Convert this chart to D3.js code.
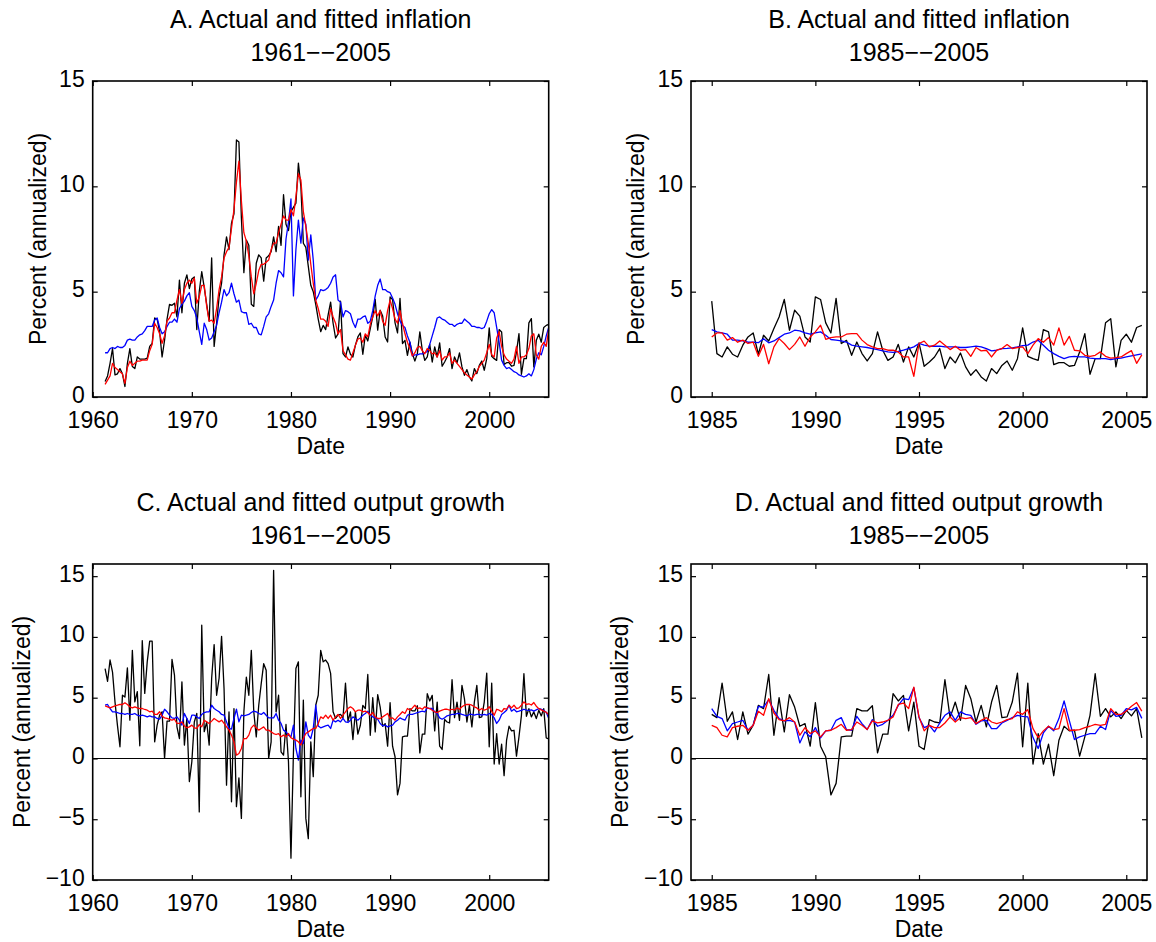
<!DOCTYPE html>
<html>
<head>
<meta charset="utf-8">
<script src="https://cdn.jsdelivr.net/npm/d3@7"></script>
<style>
  body { margin: 0; background: #fff; }
  svg text { font-family: "Liberation Sans", Arial, Helvetica, sans-serif; fill: #000; }
</style>
</head>
<body>
<svg id="chart" width="1156" height="942"></svg>
<script>
// quarterly data

// inflation, actual, 1961.25 .. 2006.0
const inflationActual = [
  0.74, 1.0, 1.6, 2.3, 1.05, 1.1, 1.35, 1.1, 0.5, 1.6,
  2.3, 1.45, 1.35, 1.9, 1.8, 1.8, 1.8, 1.85, 2.4, 2.55,
  3.75, 3.7, 3.1, 1.9, 2.7, 3.7, 4.4, 4.35, 4.45, 3.8,
  5.55, 4.0, 5.4, 5.8, 5.15, 5.6, 5.7, 3.2, 5.0, 5.95,
  5.2, 4.4, 3.6, 6.6, 2.4, 3.5, 4.75, 5.4, 6.75, 7.6,
  7.0, 8.25, 8.7, 12.2, 12.1, 8.5, 5.9, 7.45, 7.2, 4.4,
  4.3, 6.35, 6.75, 6.6, 5.5, 6.6, 6.7, 6.9, 7.6, 6.9,
  8.1, 7.2, 9.6, 8.2, 7.9, 8.8, 9.0, 9.2, 11.1, 10.0,
  7.3, 7.1, 6.2, 5.3, 5.0, 4.4, 3.7, 3.1, 3.4, 3.2,
  3.9, 4.5, 3.5, 2.8, 3.0,
  4.55, 2.06, 1.9, 2.38, 2.03, 1.9, 2.46, 2.85,
  3.04, 2.03, 2.93, 2.66, 3.25, 3.8, 4.63, 3.17,
  4.12, 3.84, 2.85, 2.61, 4.75, 4.63, 3.52, 3.04,
  4.68, 2.54, 2.69, 1.98, 2.61, 2.06, 1.71, 2.06,
  3.09, 2.22, 1.74, 1.9, 2.5, 1.66, 2.38, 1.9,
  2.57, 1.46, 1.66, 1.9, 2.3, 1.35, 1.9, 1.62,
  2.09, 1.43, 1.03, 1.3, 0.95, 0.76, 1.35, 1.11,
  1.5, 1.71, 1.27, 1.82, 3.28, 1.93, 1.82, 1.74,
  3.2, 3.09, 1.54, 1.63, 1.63, 1.46, 1.5, 2.14,
  3.01, 1.08, 1.82, 1.82, 3.52, 3.72, 1.43, 2.69,
  2.98, 2.6, 3.3, 3.4,
  3.45
];

// inflation, fitted over 1961-2005 (red)
const inflationRed6105 = [
  0.6, 0.8, 1.0, 1.6, 1.4, 1.3, 1.2, 1.1, 0.65, 1.4,
  1.7, 1.5, 1.6, 1.7, 1.7, 1.75, 1.75, 1.75, 2.2, 2.5,
  3.5, 3.3, 3.0, 2.55, 2.9, 3.6, 3.75, 4.0, 4.0, 4.6,
  5.1, 4.45, 5.1, 5.4, 5.55, 5.4, 5.65, 4.45, 4.75, 5.3,
  5.3, 4.3, 3.6, 3.65, 3.5, 4.2, 5.1, 5.7, 6.6, 6.9,
  7.1, 8.0, 8.9, 10.2, 11.2, 9.3, 7.8, 7.4, 6.7, 5.7,
  4.9, 5.4, 6.0, 6.3, 6.3, 6.4, 6.5, 7.0, 7.3, 7.3,
  7.8, 8.2, 8.6, 8.4, 8.4, 8.9, 8.6, 9.5, 10.6, 10.3,
  8.8, 8.1, 7.3, 6.3, 5.4, 4.6, 4.2, 3.7, 3.7, 3.6,
  3.35, 4.2, 3.8, 3.5, 3.0, 3.2, 2.2, 2.0, 1.8, 1.75,
  2.1, 2.45, 2.75, 2.8, 2.6, 3.0, 2.85, 3.45, 3.8, 4.1,
  3.85, 4.1, 3.6, 3.4, 4.1, 4.6, 4.2, 3.7, 3.5, 4.1,
  3.5, 3.0, 2.6, 2.3, 1.95, 2.1, 2.35, 2.4, 2.2, 2.05,
  2.3, 2.2, 2.05, 2.1, 1.9, 2.2, 1.75, 1.9, 1.9, 2.1,
  1.6, 1.75, 1.6, 1.45, 1.3, 1.15, 1.05, 0.95, 0.85, 1.05,
  1.2, 1.45, 1.6, 1.75, 2.1, 2.5, 2.0, 1.9, 2.8, 3.1,
  2.4, 2.0, 1.8, 1.7, 1.6, 1.8, 2.4, 1.6, 1.9, 1.9,
  2.0, 2.3, 2.9, 3.0, 2.0, 1.8, 2.4, 2.6, 2.4, 3.2
];

// inflation, fitted over 1961-2005 (blue)
const inflationBlue6105 = [
  2.1, 2.1, 2.3, 2.35, 2.3, 2.4, 2.35, 2.35, 2.45, 2.7,
  2.75, 2.7, 2.7, 2.85, 2.95, 3.0, 3.15, 3.35, 3.35, 3.35,
  3.65, 3.75, 3.3, 3.0, 3.1, 3.35, 3.55, 3.55, 3.7, 3.55,
  4.2, 4.4, 4.55, 4.8, 4.95, 4.3, 4.1, 3.75, 3.1, 2.5,
  3.5, 3.2, 2.7, 2.8, 3.1, 3.4, 4.0, 4.5, 5.1, 4.8,
  4.95, 5.4, 4.9, 4.5, 4.6, 4.05, 4.0, 4.0, 3.45, 3.5,
  3.3, 3.3, 3.0, 2.95, 3.35, 3.8, 3.95, 4.3, 4.6, 5.4,
  6.0, 5.9, 5.7, 7.5, 8.3, 9.4, 4.8, 7.0, 8.4, 7.3,
  8.5, 8.2, 6.5, 7.7, 6.5, 4.6, 4.8, 5.1, 5.05, 5.1,
  5.2, 5.4, 5.7, 5.8, 4.6, 4.5, 3.8, 4.1, 4.05, 3.95,
  3.55, 3.3, 3.7, 3.7, 3.8, 3.85, 3.5, 3.6, 4.1, 4.8,
  5.3, 5.6, 5.1, 5.1, 5.0, 4.95, 4.7, 4.4, 3.95, 3.6,
  3.4, 3.3, 2.9, 2.6, 1.95, 2.0, 2.0, 2.05, 2.05, 2.1,
  2.15, 2.5, 2.9, 3.3, 3.75, 3.8, 3.7, 3.65, 3.55, 3.45,
  3.45, 3.35, 3.45, 3.5, 3.5, 3.7, 3.6, 3.5, 3.35, 3.35,
  3.3, 3.3, 3.25, 3.3, 3.6, 3.95, 4.15, 4.0, 3.3, 2.6,
  1.75, 1.5, 1.35, 1.4, 1.3, 1.2, 1.15, 1.05, 1.0, 0.95,
  1.0, 1.1, 1.0, 1.3, 1.8, 2.1, 2.0, 2.4, 2.9, 3.3
];

// inflation, fitted over 1985-2005, 1985.0 .. 2005.75
const inflationRed8505 = [
  2.85, 3.04, 3.04, 2.7, 2.82, 2.6, 2.7, 2.54,
  2.6, 1.93, 2.5, 1.58, 2.38, 2.77, 2.54, 2.25,
  2.5, 2.85, 2.41, 2.85, 3.09, 3.41, 2.74, 2.82,
  2.85, 2.85, 2.98, 3.01, 3.01, 2.7, 2.49, 2.38,
  2.3, 2.3, 2.22, 2.22, 2.14, 1.9, 1.9, 0.98,
  2.54, 2.65, 2.38, 2.46, 2.66, 2.46, 2.25, 2.41,
  2.22, 2.25, 1.93, 2.35, 2.19, 2.22, 1.9, 2.22,
  2.3, 2.49, 2.3, 2.35, 2.38, 2.06, 2.46, 2.77,
  2.6, 2.82, 2.46, 3.28, 2.46, 2.88, 2.22, 2.19,
  1.98, 1.93, 1.98, 2.14, 1.93, 1.85, 1.87, 1.9,
  2.06, 2.2, 1.6, 2.0
];
const inflationBlue8505 = [
  3.2, 3.09, 3.04, 2.98, 2.7, 2.7, 2.66, 2.6,
  2.6, 2.58, 2.77, 2.57, 2.66, 2.82, 2.98, 3.04,
  3.17, 3.14, 3.04, 2.98, 3.04, 3.09, 2.93, 2.73,
  2.7, 2.66, 2.61, 2.46, 2.41, 2.38, 2.35, 2.3,
  2.25, 2.19, 2.14, 2.12, 2.16, 2.22, 2.3, 2.38,
  2.54, 2.46, 2.41, 2.41, 2.41, 2.38, 2.38, 2.38,
  2.35, 2.35, 2.38, 2.41, 2.38, 2.3, 2.19, 2.22,
  2.3, 2.31, 2.33, 2.38, 2.44, 2.46, 2.61, 2.69,
  2.46, 2.22, 2.06, 1.93, 1.82, 1.9, 1.93, 1.9,
  1.9, 1.85, 1.82, 1.82, 1.82, 1.77, 1.82, 1.85,
  1.9, 1.95, 2.0, 2.05
];

// output growth, actual, 1961.25 .. 2006.0
const growthActual = [
  7.4, 6.35, 8.1, 7.1, 4.65, 2.7, 0.96, 5.2, 5.05, 7.45,
  3.15, 8.9, 4.65, 5.5, 1.04, 9.7, 5.35, 7.95, 9.65, 9.65,
  1.37, 2.74, 3.56, 3.84, 0.0, 3.07, 3.07, 8.16, 6.85, 2.6,
  1.64, 6.3, 1.1, 3.3, -1.9, -0.27, 3.0, 3.7, -4.4, 10.96,
  2.2, 3.0, 1.1, 6.6, 9.37, 5.2, 6.6, 10.05, 5.75, -2.2,
  3.84, -3.56, 4.1, -3.97, -1.6, -4.93, 3.84, 6.7, 5.2, 8.9,
  3.84, 1.78, 4.38, 6.16, 7.8, 7.26, 0.0, 1.37, 15.48, 3.84,
  5.2, 0.55, 0.27, 2.8, -0.27, -8.2, 0.5, 7.4, 7.95, -3.15,
  4.8, -4.93, -6.6, 1.37, -1.5, 4.38, 5.2, 8.9, 7.95, 8.1,
  7.8, 7.0, 3.84, 3.3, 3.56,
  3.63, 3.36, 6.2, 3.06, 3.83, 1.56, 3.83, 2.0,
  2.73, 4.37, 4.1, 6.91, 1.91, 5.0, 2.19, 5.25,
  4.23, 2.65, 2.87, 1.01, 4.59, 1.01, 0.14, -3.0,
  -2.05, 1.78, 1.83, 1.83, 4.1, 3.91, 3.91, 4.34,
  0.46, 2.0, 2.0, 5.33, 4.73, 5.19, 2.27, 4.64,
  1.01, 0.74, 3.2, 3.0, 2.92, 6.48, 3.36, 4.64,
  3.14, 6.01, 4.92, 3.0, 4.37, 2.6, 4.64, 6.01,
  3.36, 3.42, 4.64, 7.02, 0.96, 6.2, -0.46, 2.05,
  -0.46, 1.17, -1.42, 1.5, 2.65, 2.27, 2.32, 0.19,
  1.78, 3.55, 6.97, 3.47, 4.1, 3.42, 3.83, 3.28,
  3.96, 3.5, 4.1, 1.7,
  1.6
];

const growthRed6105 = [
  4.33, 4.25, 4.16, 4.25, 4.33, 4.38, 4.44, 4.44, 4.58, 4.44,
  4.25, 4.16, 4.25, 4.16, 4.11, 4.11, 4.03, 3.97, 3.84, 3.89,
  3.62, 3.62, 3.84, 3.48, 3.34, 3.29, 3.21, 3.15, 3.23, 2.88,
  2.88, 3.01, 2.68, 2.52, 2.6, 2.74, 2.52, 2.47, 2.79, 2.6,
  3.15, 3.01, 2.88, 3.07, 3.29, 3.15, 3.01, 3.15, 2.88, 2.6,
  2.33, 1.92, 1.37, 0.27, 0.41, 0.82, 1.64, 1.64, 1.92, 2.52,
  2.74, 2.52, 2.33, 2.47, 2.6, 2.33, 2.33, 2.19, 2.05, 1.97,
  2.05, 1.78, 1.92, 1.78, 2.05,
  1.7, 1.59, 1.51, 1.37, 1.1, 1.64, 2.05, 2.19, 2.33, 2.47,
  2.47, 2.88, 3.42, 3.29, 3.56, 3.29, 3.56, 3.15, 3.42, 3.62,
  3.29, 3.56, 3.84, 4.11, 4.25, 4.11, 3.84, 3.97, 3.97, 3.84,
  3.89, 3.78, 3.56, 3.78, 3.42, 3.29, 3.29, 3.42, 3.56, 3.7,
  3.29, 3.34, 3.15, 3.42, 3.62, 3.84, 3.7, 4.11, 3.97, 4.16,
  4.38, 4.11, 4.16, 4.05, 4.25, 4.16, 4.11, 3.97, 3.84, 3.78,
  3.89, 3.97, 4.05, 4.05, 3.97, 4.05, 3.97, 4.16, 4.05, 4.25,
  4.38, 4.44, 4.44, 4.38, 4.25, 4.16, 3.97, 4.11, 3.97, 4.05,
  4.25, 3.89, 3.56, 4.05, 3.97, 3.84, 4.11, 4.05, 4.38, 4.16,
  4.38, 4.11, 4.16, 4.38, 4.66, 4.44,
  4.5, 4.4, 4.6, 4.3, 4.1, 4.0, 3.9, 3.8, 3.6
];

const growthBlue6105 = [
  4.38, 4.44, 4.11, 3.84, 3.84, 3.78, 3.7, 3.7, 3.62, 3.7,
  3.62, 3.62, 3.7, 3.56, 3.51, 3.56, 3.51, 3.42, 3.51, 3.42,
  3.42, 3.29, 3.23, 3.56, 4.05, 3.84, 3.56, 3.34, 3.29, 3.42,
  3.15, 2.74, 3.7, 3.29, 2.88, 3.56, 3.56, 3.42, 3.29, 3.62,
  3.78, 3.84, 3.84, 4.38, 4.11, 3.97, 3.84, 3.62, 3.56, 3.01,
  2.47, 2.41, 3.29, 4.05, 3.01, 3.56, 3.51, 3.56, 3.62, 3.78,
  3.89, 3.84, 3.7, 3.62, 3.78, 3.56, 3.34, 3.34, 3.34, 3.7,
  3.15, 2.88, 2.33, 2.19, 1.92,
  1.78, 2.74, 0.82, -0.14, 1.51, 1.23, 3.01, 1.92, 1.64, 2.47,
  4.38, 2.68, 2.52, 2.6, 2.68, 2.74, 2.47, 3.15, 3.01, 3.15,
  3.01, 3.29, 3.01, 2.96, 3.15, 3.42, 3.29, 3.15, 3.34, 3.56,
  3.7, 3.89, 3.56, 3.42, 3.34, 3.23, 2.88, 2.68, 2.74, 2.6,
  2.68, 2.74, 3.01, 3.15, 3.34, 3.23, 3.15, 3.56, 3.62, 3.62,
  3.7, 3.78, 3.84, 3.89, 3.84, 4.16, 4.11, 4.11, 3.84, 3.7,
  3.34, 3.23, 3.34, 3.51, 3.56, 3.62, 3.62, 3.7, 3.7, 3.62,
  3.56, 3.51, 3.62, 3.62, 3.56, 3.62, 3.62, 3.56, 3.62, 3.56,
  3.7, 3.62, 3.34, 2.88, 3.15, 3.62, 3.78, 3.97, 4.38, 3.89,
  4.05, 3.84, 3.89, 3.95, 4.05, 3.97,
  3.95, 4.0, 3.9, 4.0, 4.1, 4.05, 3.95, 3.8, 3.3
];

const growthRed8505 = [
  2.73, 2.54, 1.91, 1.78, 2.54, 2.65, 2.73, 2.32,
  2.73, 3.88, 3.55, 4.92, 3.74, 3.2, 3.09, 3.36,
  3.0, 1.91, 2.54, 2.05, 2.27, 1.78, 2.27, 2.32,
  2.54, 2.81, 2.32, 2.38, 3.0, 2.73, 2.38, 3.09,
  2.92, 3.0, 3.14, 3.42, 4.45, 4.56, 4.1, 5.87,
  3.42, 2.27, 2.73, 2.54, 2.54, 2.92, 3.42, 3.0,
  3.36, 3.28, 3.36, 2.87, 3.14, 3.36, 3.0, 2.87,
  3.0, 3.2, 3.28, 3.83, 3.63, 4.02, 2.46, 1.72,
  2.27, 2.65, 2.38, 2.46, 4.1, 2.32, 2.32, 2.38,
  2.54, 2.65, 2.81, 2.73, 2.81, 4.1, 3.63, 3.63,
  3.91, 4.3, 4.6, 3.9
];
const growthBlue8505 = [
  4.1, 3.47, 3.28, 2.27, 2.87, 3.0, 3.14, 2.32,
  2.73, 4.29, 4.23, 4.84, 3.96, 3.28, 3.09, 3.14,
  3.0, 1.28, 2.19, 1.78, 2.54, 1.69, 2.27, 2.32,
  3.14, 3.36, 2.38, 2.32, 3.47, 2.87, 2.38, 3.2,
  2.65, 2.81, 3.14, 3.55, 4.37, 4.92, 4.84, 5.82,
  3.36, 2.54, 2.73, 2.19, 2.92, 3.55, 3.83, 3.14,
  3.83, 3.63, 3.55, 2.81, 3.09, 3.14, 2.46, 2.46,
  2.92, 3.14, 3.36, 3.55, 3.47, 3.42, 1.72, 0.82,
  2.1, 2.65, 2.27, 3.28, 4.73, 3.14, 1.56, 1.78,
  1.91, 2.05, 2.05, 2.65, 2.38, 3.96, 3.47, 3.55,
  4.1, 4.0, 4.2, 3.3
];

const ticksLong = [1960, 1970, 1980, 1990, 2000];
const ticksShort = [1985, 1990, 1995, 2000, 2005];
const ticksInflation = [0, 5, 10, 15];
const ticksGrowth = [-10, -5, 0, 5, 10, 15];

// 1985Q1 sits at position 95 of the long series
const cut = 95;

const svg = d3.select('#chart');

const panels = [
  {
    title: 'A. Actual and fitted inflation', period: '1961\u2212\u22122005',
    left: 92.7, top: 81, xDomain: [1960, 2006], yDomain: [0, 15],
    xTicks: ticksLong, yTicks: ticksInflation, start: 1961.25, labelOffset: 55,
    series: [inflationActual, inflationBlue6105, inflationRed6105],
  },
  {
    title: 'B. Actual and fitted inflation', period: '1985\u2212\u22122005',
    left: 691, top: 81, xDomain: [1984, 2006], yDomain: [0, 15],
    xTicks: ticksShort, yTicks: ticksInflation, start: 1985, labelOffset: 55,
    series: [inflationActual.slice(cut, cut + 84), inflationBlue8505, inflationRed8505],
  },
  {
    title: 'C. Actual and fitted output growth', period: '1961\u2212\u22122005',
    left: 92.7, top: 564, xDomain: [1960, 2006], yDomain: [-10, 16], zero: true,
    xTicks: ticksLong, yTicks: ticksGrowth, start: 1961.25, labelOffset: 71,
    series: [growthActual, growthBlue6105, growthRed6105],
  },
  {
    title: 'D. Actual and fitted output growth', period: '1985\u2212\u22122005',
    left: 691, top: 564, xDomain: [1984, 2006], yDomain: [-10, 16], zero: true,
    xTicks: ticksShort, yTicks: ticksGrowth, start: 1985, labelOffset: 71,
    series: [growthActual.slice(cut, cut + 84), growthBlue8505, growthRed8505],
  },
];

const colors = ['#000000', '#0000ff', '#ff0000'];
const width = 456;
const height = 316;

function drawPanel(p) {
  const x = d3.scaleLinear().domain(p.xDomain).range([p.left, p.left + width]);
  const y = d3.scaleLinear().domain(p.yDomain).range([p.top + height, p.top]);
  const g = svg.append('g');

  p.series.forEach((values, k) => {
    g.append('path')
      .datum(values)
      .attr('fill', 'none')
      .attr('stroke', colors[k])
      .attr('stroke-width', 1.3)
      .attr('stroke-linejoin', 'round')
      .attr('d', d3.line().x((d, i) => x(p.start + i / 4)).y(d => y(d)));
  });

  if (p.zero) {
    g.append('line')
      .attr('x1', p.left).attr('x2', p.left + width)
      .attr('y1', y(0)).attr('y2', y(0))
      .attr('stroke', '#000').attr('stroke-width', 1.1);
  }

  // axes, ticks pointing inward on all four sides
  const fmt = d3.format('d');
  const bottom = g.append('g')
    .attr('transform', `translate(0,${p.top + height})`)
    .call(d3.axisBottom(x).tickValues(p.xTicks).tickSize(-5).tickPadding(15).tickFormat(fmt));
  const top = g.append('g')
    .attr('transform', `translate(0,${p.top})`)
    .call(d3.axisTop(x).tickValues(p.xTicks).tickSize(-5).tickFormat(''));
  const left = g.append('g')
    .attr('transform', `translate(${p.left},0)`)
    .call(d3.axisLeft(y).tickValues(p.yTicks).tickSize(-5).tickPadding(8));
  const right = g.append('g')
    .attr('transform', `translate(${p.left + width},0)`)
    .call(d3.axisRight(y).tickValues(p.yTicks).tickSize(-5).tickFormat(''));

  [bottom, top, left, right].forEach(a => {
    a.select('.domain').remove();
    a.selectAll('line').attr('stroke', '#000').attr('stroke-width', 1.2);
    a.selectAll('text').attr('font-size', 23).attr('fill', '#000');
  });
  // lowest y label sits just above the year labels
  left.selectAll('text').attr('dy', '0.22em');

  g.append('rect')
    .attr('x', p.left).attr('y', p.top)
    .attr('width', width).attr('height', height)
    .attr('fill', 'none').attr('stroke', '#000').attr('stroke-width', 1.6);

  // labels
  g.append('text')
    .attr('x', p.left + width / 2).attr('y', p.top + height + 57)
    .attr('text-anchor', 'middle').attr('font-size', 23)
    .text('Date');

  g.append('text')
    .attr('transform', `translate(${p.left - p.labelOffset},${p.top + height / 2}) rotate(-90)`)
    .attr('text-anchor', 'middle').attr('dy', '0.35em').attr('font-size', 23)
    .text('Percent (annualized)');

  g.append('text')
    .attr('x', p.left + width / 2).attr('y', p.top - 53)
    .attr('text-anchor', 'middle').attr('font-size', 25)
    .text(p.title);

  g.append('text')
    .attr('x', p.left + width / 2).attr('y', p.top - 20)
    .attr('text-anchor', 'middle').attr('font-size', 25)
    .text(p.period);
}

panels.forEach(drawPanel);
</script>
</body>
</html>
